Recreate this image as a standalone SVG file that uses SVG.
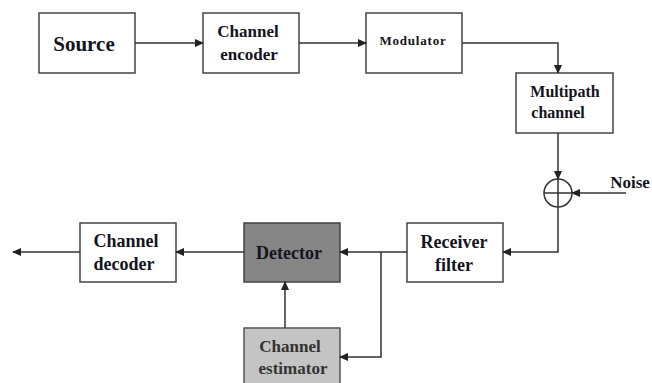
<svg xmlns="http://www.w3.org/2000/svg" width="652" height="383" viewBox="0 0 652 383">
<defs>
<marker id="ah" markerWidth="9" markerHeight="8" refX="8" refY="4" orient="auto" markerUnits="userSpaceOnUse">
<path d="M0,0 L9,4 L0,8 Z" fill="#222"/>
</marker>
<style>
.box{fill:#fff;stroke:#444;stroke-width:1.5}
.t{font-family:"Liberation Serif","Times New Roman",serif;font-weight:bold;fill:#141420;text-anchor:middle}
.c{fill:none;stroke:#333;stroke-width:1.5}
.a{fill:none;stroke:#333;stroke-width:1.5;marker-end:url(#ah)}
</style>
</defs>
<rect width="652" height="383" fill="#fff"/>
<g id="source"><rect class="box" x="39" y="13" width="96" height="60"/><text class="t" x="84" y="51" font-size="21">Source</text></g>
<g id="encoder"><rect class="box" x="203" y="13" width="96" height="60"/><text class="t" x="248" y="37" font-size="17">Channel</text><text class="t" x="249" y="60" font-size="17">encoder</text></g>
<g id="modulator"><rect class="box" x="366" y="13" width="96" height="60"/><text class="t" x="413" y="45" font-size="13" letter-spacing="0.8">Modulator</text></g>
<g id="multipath"><rect class="box" x="516" y="73" width="97" height="60"/><text class="t" x="565" y="97" font-size="16">Multipath</text><text class="t" x="558" y="118" font-size="16">channel</text></g>
<g id="adder"><circle cx="558" cy="193" r="14" fill="#fff" stroke="#333" stroke-width="1.5"/><path class="c" d="M544,193 H572 M558,179 V207"/></g>
<g id="noise"><text class="t" x="630" y="188" font-size="17">Noise</text></g>
<g id="receiver"><rect class="box" x="407" y="223" width="96" height="59"/><text class="t" x="454" y="248" font-size="18">Receiver</text><text class="t" x="454" y="271" font-size="18">filter</text></g>
<g id="detector"><rect x="244" y="223" width="96" height="59" fill="#858585" stroke="#444" stroke-width="1.5"/><text class="t" x="289" y="259" font-size="18">Detector</text></g>
<g id="estimator"><rect x="244" y="328" width="96" height="62" fill="#c4c4c4" stroke="#555" stroke-width="1.5"/><text class="t" x="290" y="352" font-size="17" fill="#333" style="fill:#333">Channel</text><text class="t" x="293" y="374" font-size="17" style="fill:#333">estimator</text></g>
<g id="decoder"><rect class="box" x="80" y="223" width="96" height="59"/><text class="t" x="126" y="247" font-size="18">Channel</text><text class="t" x="124" y="270" font-size="18">decoder</text></g>
<g id="connectors">
<path class="a" d="M135,43 H203"/>
<path class="a" d="M299,43 H366"/>
<path class="a" d="M462,43 H558 V73"/>
<path class="a" d="M558,133 V179"/>
<path class="a" d="M626,193 H572"/>
<path class="a" d="M558,207 V252 H503"/>
<path class="a" d="M407,252 H340"/>
<path class="a" d="M381,252 V357 H340"/>
<path class="a" d="M285,328 V282"/>
<path class="a" d="M244,252 H176"/>
<path class="a" d="M80,252 H13"/>
</g>
</svg>
